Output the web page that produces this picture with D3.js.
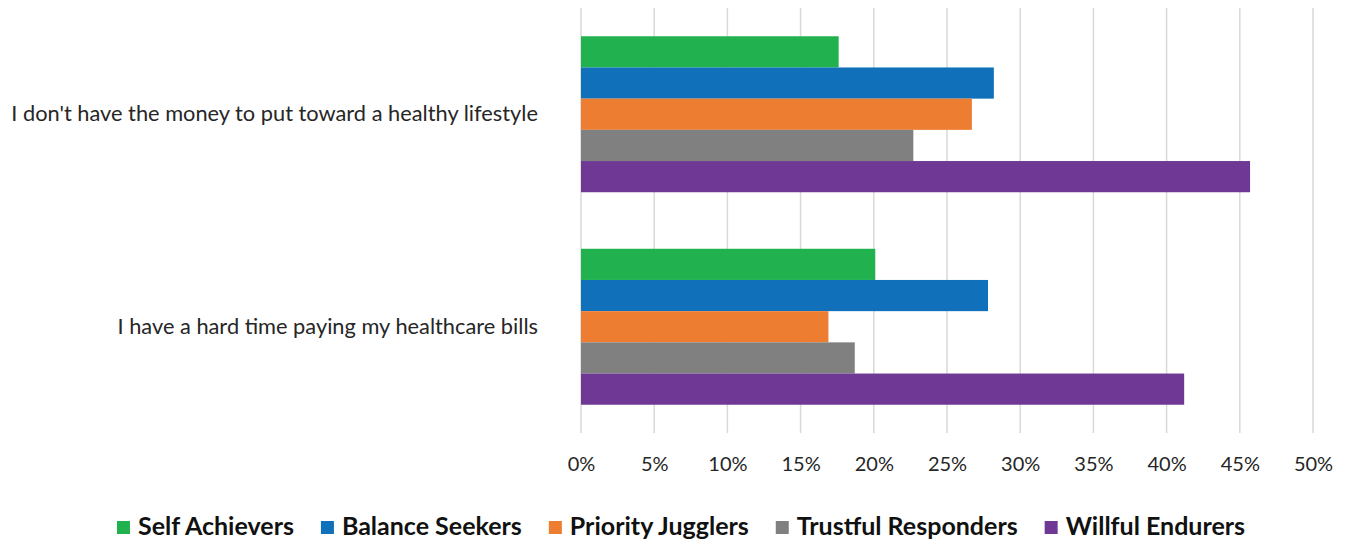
<!DOCTYPE html>
<html>
<head>
<meta charset="utf-8">
<script src="https://cdn.jsdelivr.net/npm/d3@7"></script>
<style>
  html, body { margin: 0; padding: 0; background: #fff; }
  svg { display: block; font-family: Lato, "Open Sans", sans-serif; }
</style>
</head>
<body>
<svg id="chart" width="1348" height="542"></svg>
<script>
// Survey statements (top to bottom)
const categories = [
  "I don't have the money to put toward a healthy lifestyle",
  "I have a hard time paying my healthcare bills"
];

// Segments shown as bars within each statement
const seriesNames = [
  "Self Achievers",
  "Balance Seekers",
  "Priority Jugglers",
  "Trustful Responders",
  "Willful Endurers"
];

// Share of each segment agreeing, per statement
const selfAchievers      = [0.176, 0.201];
const balanceSeekers     = [0.282, 0.278];
const priorityJugglers   = [0.267, 0.169];
const trustfulResponders = [0.227, 0.187];
const willfulEndurers    = [0.457, 0.412];

const seriesValues = [selfAchievers, balanceSeekers, priorityJugglers, trustfulResponders, willfulEndurers];
const seriesColors = ["#21B24F", "#1071BA", "#ED7D31", "#808080", "#6E3894"];

const tickValues = [0, 0.05, 0.10, 0.15, 0.20, 0.25, 0.30, 0.35, 0.40, 0.45, 0.50];

const svg = d3.select("#chart");

const plot = { left: 581, right: 1313, top: 8, bottom: 433 };

const x = d3.scaleLinear().domain([0, 0.5]).range([plot.left, plot.right]);

const y = d3.scaleBand()
  .domain(categories)
  .range([plot.top, plot.bottom])
  .paddingInner(0.266)
  .paddingOuter(0.133);

const ySeries = d3.scaleBand()
  .domain(seriesNames)
  .range([0, y.bandwidth()]);

// Vertical gridlines
svg.append("g")
  .selectAll("line")
  .data(tickValues)
  .join("line")
  .attr("x1", d => x(d)).attr("x2", d => x(d))
  .attr("y1", plot.top).attr("y2", plot.bottom)
  .attr("stroke", "#d9d9d9")
  .attr("stroke-width", 1.5);

// Bars
const rows = [];
categories.forEach((c, ci) => {
  seriesNames.forEach((s, si) => {
    rows.push({ category: c, series: s, value: seriesValues[si][ci], color: seriesColors[si] });
  });
});

svg.append("g")
  .selectAll("rect")
  .data(rows)
  .join("rect")
  .attr("x", x(0))
  .attr("y", d => y(d.category) + ySeries(d.series))
  .attr("width", d => x(d.value) - x(0))
  .attr("height", ySeries.bandwidth())
  .attr("fill", d => d.color);

// X axis labels
const xAxis = d3.axisBottom(x)
  .tickValues(tickValues)
  .tickFormat(d3.format(".0%"))
  .tickSize(0)
  .tickPadding(0);

const gx = svg.append("g")
  .attr("transform", `translate(0, ${plot.bottom + 24})`)
  .call(xAxis);
gx.select(".domain").remove();
gx.selectAll("text")
  .attr("font-family", "Lato, sans-serif")
  .attr("font-size", 20)
  .attr("fill", "#262626");

// Category labels
const yAxis = d3.axisLeft(y).tickSize(0).tickPadding(43);
const gy = svg.append("g")
  .attr("transform", `translate(${plot.left}, 0)`)
  .call(yAxis);
gy.select(".domain").remove();
gy.selectAll("text")
  .attr("font-family", "Lato, sans-serif")
  .attr("font-size", 21.8)
  .attr("fill", "#262626");

// Legend, centred below the chart
const legend = svg.append("g").attr("transform", "translate(0, 526)");
const items = legend.selectAll("g")
  .data(seriesNames)
  .join("g");

items.append("rect")
  .attr("width", 13).attr("height", 13)
  .attr("y", -5)
  .attr("fill", (d, i) => seriesColors[i]);

items.append("text")
  .attr("x", 21)
  .attr("dy", "0.35em")
  .attr("font-family", "Lato, sans-serif")
  .attr("font-weight", 700)
  .attr("font-size", 25)
  .attr("fill", "#111")
  .text(d => d);

const gap = 27;
const widths = [];
items.each(function () { widths.push(21 + this.querySelector("text").getComputedTextLength()); });
const total = d3.sum(widths) + gap * (widths.length - 1);
let cursor = (1348 - total) / 2 + 7;
items.attr("transform", (d, i) => {
  const t = `translate(${cursor}, 0)`;
  cursor += widths[i] + gap;
  return t;
});
</script>
</body>
</html>
